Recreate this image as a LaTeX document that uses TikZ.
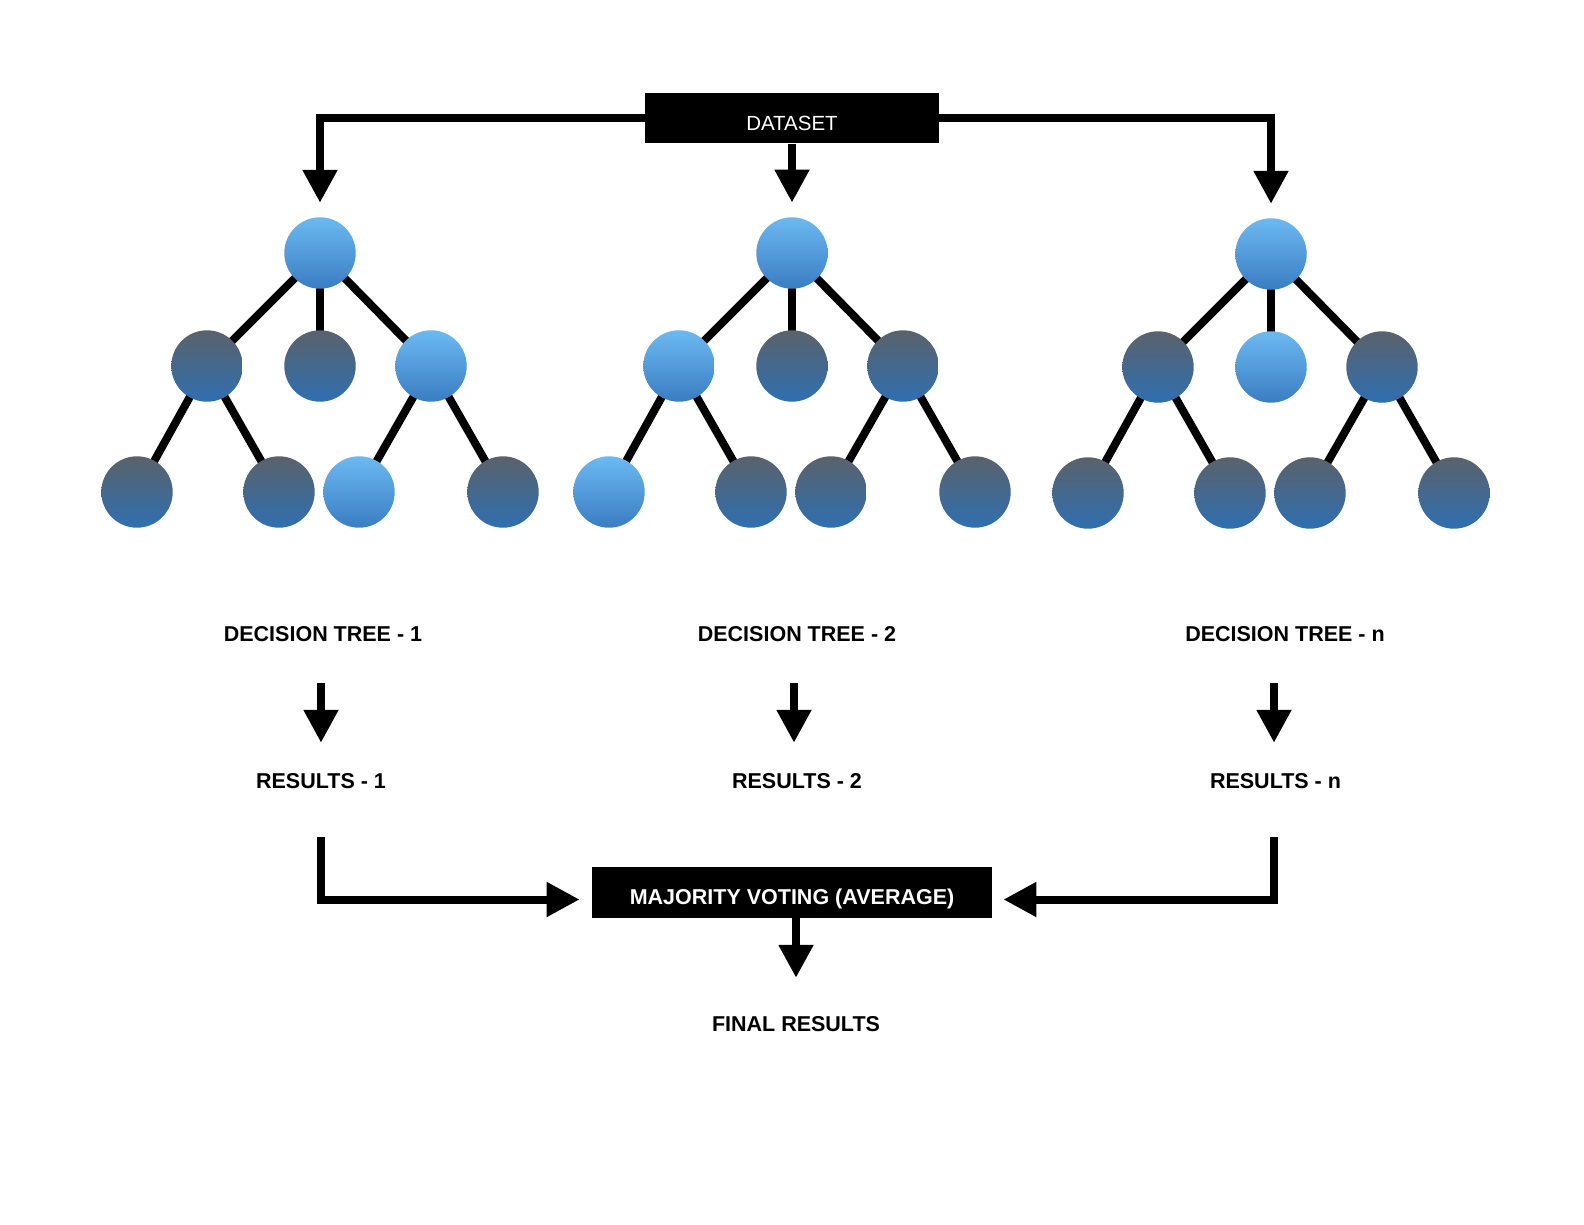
\documentclass[tikz,border=0pt]{standalone}
\usepackage{fontspec}
\setmainfont{Liberation Sans}
\usetikzlibrary{arrows.meta,backgrounds}
\definecolor{ltop}{HTML}{6CB9F2}
\definecolor{lbot}{HTML}{3A7DC2}
\definecolor{dtop}{HTML}{5A626B}
\definecolor{dbot}{HTML}{2F6FB0}
\begin{document}
\begin{tikzpicture}[x=1pt,y=-1pt,
  tnode/.style={circle, minimum size=71.4pt, inner sep=0pt, draw=none},
  lt/.style={tnode, top color=ltop, bottom color=lbot},
  dk/.style={tnode, top color=dtop, bottom color=dbot},
  treeedge/.style={line width=8pt, black},
  arr/.style={line width=8pt, black, -{Triangle[length=33pt,width=33pt]}},
  lbl/.style={font=\fontsize{21.5}{26}\selectfont\bfseries, inner sep=0pt, anchor=base},
  blackbox/.style={fill=black, text=white, inner sep=0pt, text depth=0pt}]
\begin{scope}[on background layer]
  \fill[white] (0,0) rectangle (1584,1224);
\end{scope}
\useasboundingbox (0,0) rectangle (1584,1224);

% boxes
\node[blackbox, minimum width=294pt, minimum height=50pt, text height=23.8pt,
      font=\fontsize{20.5}{24}\selectfont] (ds) at (792,118.3) {DATASET};
\node[blackbox, minimum width=399.4pt, minimum height=50.4pt, text height=23.4pt,
      font=\fontsize{21.5}{26}\selectfont\bfseries] (mv) at (792,892.5) {MAJORITY VOTING (AVERAGE)};

% tree 1
\node[lt] (a0) at (320,253) {};
\node[dk] (a1) at (207,366) {};
\node[dk] (a2) at (320,366) {};
\node[lt] (a3) at (431,366) {};
\node[dk] (a4) at (137,492) {};
\node[dk] (a5) at (279,492) {};
\node[lt] (a6) at (359,492) {};
\node[dk] (a7) at (503,492) {};
% tree 2
\node[lt] (b0) at (792,253) {};
\node[lt] (b1) at (679,366) {};
\node[dk] (b2) at (792,366) {};
\node[dk] (b3) at (903,366) {};
\node[lt] (b4) at (609,492) {};
\node[dk] (b5) at (751,492) {};
\node[dk] (b6) at (831,492) {};
\node[dk] (b7) at (975,492) {};
% tree n
\node[lt] (c0) at (1271,254) {};
\node[dk] (c1) at (1158,367) {};
\node[lt] (c2) at (1271,367) {};
\node[dk] (c3) at (1382,367) {};
\node[dk] (c4) at (1088,493) {};
\node[dk] (c5) at (1230,493) {};
\node[dk] (c6) at (1310,493) {};
\node[dk] (c7) at (1454,493) {};

\begin{scope}[on background layer]
  \foreach \t in {a,b,c}{
    \draw[treeedge] (\t0.center) -- (\t1.center);
    \draw[treeedge] (\t0.center) -- (\t2.center);
    \draw[treeedge] (\t0.center) -- (\t3.center);
    \draw[treeedge] (\t1.center) -- (\t4.center);
    \draw[treeedge] (\t1.center) -- (\t5.center);
    \draw[treeedge] (\t3.center) -- (\t6.center);
    \draw[treeedge] (\t3.center) -- (\t7.center);
  }
\end{scope}

% labels
\node[lbl] (t1l) at (323,641) {DECISION TREE - 1};
\node[lbl] (t2l) at (797,641) {DECISION TREE - 2};
\node[lbl] (tnl) at (1285,641) {DECISION TREE - n};
\node[lbl] (r1) at (321,788) {RESULTS - 1};
\node[lbl] (r2) at (797,788) {RESULTS - 2};
\node[lbl] (rn) at (1275.5,788) {RESULTS - n};
\node[lbl] (fr) at (796,1031) {FINAL RESULTS};

% dataset arrows
\draw[arr, shorten >=14.3pt] (ds.west) -| (a0.north);
\draw[arr, shorten >=14.5pt] (ds.south) -- (b0.north);
\draw[arr, shorten >=14.3pt] (ds.east) -| (c0.north);

% tree -> results arrows
\draw[arr, shorten <=42pt, shorten >=30pt] (r1.north |- t1l.south) -- (r1.north);
\draw[arr, shorten <=42pt, shorten >=30pt] ([xshift=-3pt]r2.north |- t2l.south) -- ([xshift=-3pt]r2.north);
\draw[arr, shorten <=42pt, shorten >=30pt] ([xshift=-1.5pt]rn.north |- tnl.south) -- ([xshift=-1.5pt]rn.north);

% results -> majority voting
\draw[arr, shorten <=49pt, shorten >=12.5pt] (r1.south) |- ([yshift=-7pt]mv.west);
\draw[arr, shorten <=49pt, shorten >=11.5pt] ([xshift=-1.5pt]rn.south) |- ([yshift=-7pt]mv.east);

% majority voting -> final results
\draw[arr, shorten >=38pt] (mv.south -| fr.north) -- (fr.north);
\end{tikzpicture}
\end{document}
